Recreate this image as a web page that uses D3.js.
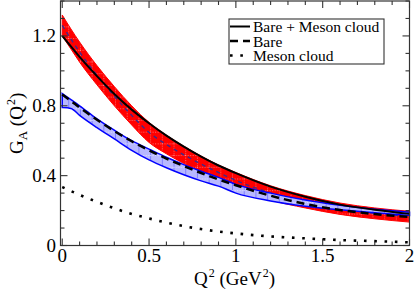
<!DOCTYPE html>
<html>
<head>
<meta charset="utf-8">
<script src="https://cdn.jsdelivr.net/npm/d3@7"></script>
<style>
  body { margin: 0; background: #fff; }
</style>
</head>
<body>
<svg id="chart" width="415" height="291"></svg>
<script>
// Q^2 grid (GeV^2) shared by all curves
var q2 = [0, 0.05, 0.1, 0.2, 0.3, 0.4, 0.5, 0.6, 0.7, 0.8, 0.9, 1.0, 1.2, 1.4, 1.6, 1.8, 2.0];

// Bare + Meson cloud (solid)
var total = [1.20, 1.14, 1.08, 0.97, 0.868, 0.778, 0.70, 0.629, 0.566, 0.509, 0.458, 0.414, 0.337, 0.279, 0.234, 0.205, 0.181];
// Bare (dashed)
var bare = [0.865, 0.828, 0.79, 0.72, 0.655, 0.597, 0.545, 0.498, 0.455, 0.415, 0.378, 0.345, 0.285, 0.238, 0.203, 0.18, 0.163];
// Meson cloud (dotted)
var meson = [0.335, 0.312, 0.29, 0.25, 0.213, 0.181, 0.155, 0.131, 0.111, 0.094, 0.080, 0.069, 0.052, 0.041, 0.031, 0.025, 0.018];

// red band (upper / lower edge)
var redTop = [1.32, 1.24, 1.165, 1.03, 0.91, 0.80, 0.705, 0.632, 0.569, 0.512, 0.461, 0.418, 0.342, 0.286, 0.243, 0.215, 0.196];
var redBot = [1.20, 1.125, 1.05, 0.92, 0.80, 0.69, 0.59, 0.525, 0.47, 0.42, 0.375, 0.328, 0.26, 0.215, 0.178, 0.153, 0.134];
// blue band (upper / lower edge)
var blueTop = [0.87, 0.835, 0.80, 0.725, 0.66, 0.60, 0.552, 0.505, 0.463, 0.425, 0.39, 0.35, 0.30, 0.26, 0.23, 0.207, 0.19];
var blueBot = [0.79, 0.785, 0.745, 0.675, 0.61, 0.545, 0.49, 0.445, 0.405, 0.37, 0.34, 0.30, 0.255, 0.225, 0.205, 0.187, 0.172];

var xMajor = [0, 0.5, 1, 1.5, 2];
var xLabels = ["0", "0.5", "1", "1.5", "2"];
var yMajor = [0, 0.4, 0.8, 1.2];
var yLabels = ["0", "0.4", "0.8", "1.2"];

var legendNames = ["Bare + Meson cloud", "Bare", "Meson cloud"];

var svg = d3.select("#chart");

var x = d3.scaleLinear().domain([-0.01, 2]).range([60.5, 409.5]);
var y = d3.scaleLinear().domain([0, 1.4]).range([245.5, 1]);

// hatch patterns for the bands
var defs = svg.append("defs");
var step = 11.7;
var redPat = defs.append("pattern")
  .attr("id", "redHatch").attr("patternUnits", "userSpaceOnUse")
  .attr("x", x(0) + 6).attr("y", 3)
  .attr("width", step).attr("height", step);
redPat.append("rect").attr("width", step).attr("height", step).attr("fill", "#ff0000");
redPat.append("line").attr("x1", 0.5).attr("x2", 0.5).attr("y1", 0).attr("y2", step)
  .attr("stroke", "#fff").attr("stroke-width", 0.8).attr("stroke-dasharray", "1,1.5").attr("opacity", 0.55);
redPat.append("line").attr("x1", 0).attr("x2", step).attr("y1", 0.5).attr("y2", 0.5)
  .attr("stroke", "#fff").attr("stroke-width", 0.8).attr("stroke-dasharray", "1,1.5").attr("opacity", 0.55);

var bluePat = defs.append("pattern")
  .attr("id", "blueHatch").attr("patternUnits", "userSpaceOnUse")
  .attr("x", x(0) + 6).attr("y", 3)
  .attr("width", step).attr("height", step);
bluePat.append("rect").attr("width", step).attr("height", step).attr("fill", "#b8b8ff");
bluePat.append("line").attr("x1", 0.5).attr("x2", 0.5).attr("y1", 0).attr("y2", step)
  .attr("stroke", "#7070ff").attr("stroke-width", 0.8);
bluePat.append("line").attr("x1", 0).attr("x2", step).attr("y1", 0.5).attr("y2", 0.5)
  .attr("stroke", "#fff").attr("stroke-width", 0.8).attr("stroke-dasharray", "1,1.5").attr("opacity", 0.8);

var idx = d3.range(q2.length);

function band(top, bot) {
  return d3.area()
    .x(function(i) { return x(q2[i]); })
    .y0(function(i) { return y(bot[i]); })
    .y1(function(i) { return y(top[i]); })
    .curve(d3.curveMonotoneX)(idx);
}
function line(vals) {
  return d3.line()
    .x(function(i) { return x(q2[i]); })
    .y(function(i) { return y(vals[i]); })
    .curve(d3.curveMonotoneX)(idx);
}

// red band
svg.append("path").attr("d", band(redTop, redBot))
  .attr("fill", "url(#redHatch)").attr("stroke", "#ff0000").attr("stroke-width", 1);
var redMid = redTop.map(function(v, i) { return (v + redBot[i]) / 2; });
svg.append("path").attr("d", line(redMid))
  .attr("fill", "none").attr("stroke", "#3c2a8c").attr("stroke-width", 1.4)
  .attr("stroke-dasharray", "4,4");

// blue band
svg.append("path").attr("d", band(blueTop, blueBot))
  .attr("fill", "url(#blueHatch)").attr("stroke", "#0000ff").attr("stroke-width", 1.5);

// curves
svg.append("path").attr("d", line(total))
  .attr("fill", "none").attr("stroke", "#000").attr("stroke-width", 2);
svg.append("path").attr("d", line(bare))
  .attr("fill", "none").attr("stroke", "#000").attr("stroke-width", 2.5)
  .attr("stroke-dasharray", "8,5");
svg.append("path").attr("d", line(meson))
  .attr("fill", "none").attr("stroke", "#000").attr("stroke-width", 2.6)
  .attr("stroke-dasharray", "2.6,7.7");

// frame and ticks
var axisCol = "#333";
svg.append("rect")
  .attr("x", x.range()[0]).attr("y", y.range()[1])
  .attr("width", x.range()[1] - x.range()[0]).attr("height", y.range()[0] - y.range()[1])
  .attr("fill", "none").attr("stroke", axisCol).attr("stroke-width", 1.2);

var xMinor = d3.range(0, 2.001, 0.1);
var yMinor = d3.range(0, 1.401, 0.1);
function isMajor(v, list) { return list.some(function(m) { return Math.abs(m - v) < 1e-6; }); }

var tickG = svg.append("g").attr("stroke", axisCol).attr("stroke-width", 1.1);
xMinor.forEach(function(v) {
  var len = isMajor(v, xMajor) ? 7 : 4;
  tickG.append("line").attr("x1", x(v)).attr("x2", x(v)).attr("y1", y.range()[0]).attr("y2", y.range()[0] - len);
  tickG.append("line").attr("x1", x(v)).attr("x2", x(v)).attr("y1", y.range()[1]).attr("y2", y.range()[1] + len);
});
yMinor.forEach(function(v) {
  var len = isMajor(v, yMajor) ? 7 : 4;
  tickG.append("line").attr("y1", y(v)).attr("y2", y(v)).attr("x1", x.range()[0]).attr("x2", x.range()[0] + len);
  tickG.append("line").attr("y1", y(v)).attr("y2", y(v)).attr("x1", x.range()[1]).attr("x2", x.range()[1] - len);
});

// tick labels
svg.selectAll(".xl").data(xMajor).enter().append("text")
  .attr("x", function(d) { return x(d); }).attr("y", 262)
  .attr("text-anchor", "middle").attr("font-size", 19)
  .text(function(d, i) { return xLabels[i]; });
svg.selectAll(".yl").data(yMajor).enter().append("text")
  .attr("x", 56).attr("y", function(d) { return y(d) + 6.5; })
  .attr("text-anchor", "end").attr("font-size", 19)
  .text(function(d, i) { return yLabels[i]; });

// axis titles
var xt = svg.append("text").attr("x", 194).attr("y", 285).attr("font-size", 19);
xt.append("tspan").text("Q");
xt.append("tspan").attr("dy", -8).attr("dx", 1).attr("font-size", 12).text("2");
xt.append("tspan").attr("dy", 8).text(" (GeV");
xt.append("tspan").attr("dy", -8).attr("dx", 1).attr("font-size", 12).text("2");
xt.append("tspan").attr("dy", 8).text(")");

var yt = svg.append("text").attr("transform", "translate(23,154) rotate(-90)").attr("font-size", 19);
yt.append("tspan").text("G");
yt.append("tspan").attr("dy", 4).attr("font-size", 13).text("A");
yt.append("tspan").attr("dy", -4).text(" (Q");
yt.append("tspan").attr("dy", -8).attr("dx", 1).attr("font-size", 12).text("2");
yt.append("tspan").attr("dy", 8).text(")");

// legend
var lg = svg.append("g");
lg.append("rect").attr("x", 229).attr("y", 19).attr("width", 155).attr("height", 45)
  .attr("fill", "#fff").attr("stroke", axisCol).attr("stroke-width", 1.1);
var rowY = [32, 46.5, 61];
var dashes = [null, "8,5", "2.6,7.7"];
var widths = [2, 2.5, 2.6];
legendNames.forEach(function(name, i) {
  lg.append("line").attr("x1", 230).attr("x2", 250).attr("y1", rowY[i] - 5.5).attr("y2", rowY[i] - 5.5)
    .attr("stroke", "#000").attr("stroke-width", widths[i])
    .attr("stroke-dasharray", dashes[i]);
  lg.append("text").attr("x", 253).attr("y", rowY[i]).attr("font-size", 15.5).text(name);
});

svg.selectAll("text").style("font-family", "'Liberation Serif'");
</script>
</body>
</html>
